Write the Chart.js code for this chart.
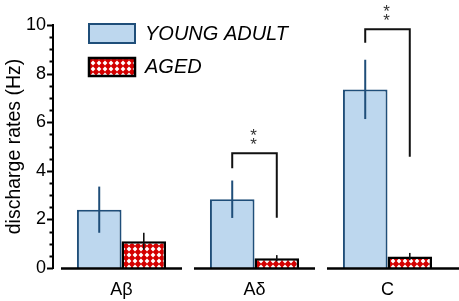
<!DOCTYPE html>
<html>
<head>
<meta charset="utf-8">
<script src="https://cdn.jsdelivr.net/npm/chart.js@4.4.1/dist/chart.umd.min.js"></script>
<style>
  html, body { margin: 0; padding: 0; background: #fff; }
  #wrap { width: 459px; height: 301px; position: relative; }
</style>
</head>
<body>
<div id="wrap"><canvas id="rateChart"></canvas></div>
<script>
// data
const fiberTypes = ["Aβ", "Aδ", "C"];
const youngMeans = [2.4, 2.83, 7.35];
const youngErr = [0.95, 0.77, 1.22];
const agedMeans = [1.1, 0.4, 0.47];
const agedErr = [0.35, 0.13, 0.15];
const yTicks = [0, 2, 4, 6, 8, 10];
// significance brackets (value units), null = none
const bracketTop = [null, 4.72, 9.82];
const bracketLeftEnd = [null, 4.1, 9.27];
const bracketRightEnd = [null, 2.07, 4.58];

const FONT = "'Liberation Sans', Arial, sans-serif";
const YOUNG_FILL = "#bdd7ee";
const YOUNG_EDGE = "#1f4e79";

function makeHatch() {
  const c = document.createElement("canvas");
  c.width = 6; c.height = 6;
  const g = c.getContext("2d");
  g.fillStyle = "#d40000";
  g.fillRect(0, 0, 6, 6);
  g.fillStyle = "#ffffff";
  g.beginPath();
  g.moveTo(3, 0.6); g.lineTo(5.4, 3); g.lineTo(3, 5.4); g.lineTo(0.6, 3);
  g.closePath();
  g.fill();
  return g.createPattern(c, "repeat");
}
const hatch = makeHatch();

const decorPlugin = {
  id: "decor",
  afterDatasetsDraw(chart) {
    const ctx = chart.ctx;
    const y = chart.scales.y;
    const x = chart.scales.x;
    const area = chart.chartArea;
    const m0 = chart.getDatasetMeta(0);
    const m1 = chart.getDatasetMeta(1);
    ctx.save();

    // error bars
    fiberTypes.forEach((_, i) => {
      ctx.lineWidth = 2;
      ctx.strokeStyle = YOUNG_EDGE;
      ctx.beginPath();
      ctx.moveTo(m0.data[i].x, y.getPixelForValue(youngMeans[i] - youngErr[i]));
      ctx.lineTo(m0.data[i].x, y.getPixelForValue(youngMeans[i] + youngErr[i]));
      ctx.stroke();
      ctx.lineWidth = 1.6;
      ctx.strokeStyle = "#111";
      ctx.beginPath();
      ctx.moveTo(m1.data[i].x, y.getPixelForValue(agedMeans[i] - agedErr[i]));
      ctx.lineTo(m1.data[i].x, y.getPixelForValue(agedMeans[i] + agedErr[i]));
      ctx.stroke();
    });

    // brackets + stars
    fiberTypes.forEach((_, i) => {
      if (bracketTop[i] == null) return;
      const xl = m0.data[i].x, xr = m1.data[i].x;
      const yt = y.getPixelForValue(bracketTop[i]);
      ctx.lineWidth = 2;
      ctx.strokeStyle = "#111";
      ctx.beginPath();
      ctx.moveTo(xl, y.getPixelForValue(bracketLeftEnd[i]));
      ctx.lineTo(xl, yt);
      ctx.lineTo(xr, yt);
      ctx.lineTo(xr, y.getPixelForValue(bracketRightEnd[i]));
      ctx.stroke();
      ctx.fillStyle = "#333";
      ctx.font = "17px " + FONT;
      ctx.textAlign = "center";
      ctx.textBaseline = "alphabetic";
      const cx = (xl + xr) / 2 - 1;
      ctx.fillText("*", cx, yt - 22 + 10);
      ctx.fillText("*", cx, yt - 13 + 10);
    });

    // y axis line and ticks
    const ax = area.left - 2;
    ctx.strokeStyle = "#000";
    ctx.lineWidth = 2;
    ctx.beginPath();
    ctx.moveTo(ax, y.getPixelForValue(10) - 1);
    ctx.lineTo(ax, y.getPixelForValue(0) + 1);
    ctx.stroke();
    for (let v = 0; v <= 10; v += 0.5) {
      const py = Math.round(y.getPixelForValue(v)) + 0.5;
      const len = v % 2 === 0 ? 6 : 3.5;
      ctx.beginPath();
      ctx.moveTo(ax - len, py);
      ctx.lineTo(ax, py);
      ctx.stroke();
    }

    // broken baseline under each group
    const base = y.getPixelForValue(0) + 0.5;
    ctx.lineWidth = 2.5;
    fiberTypes.forEach((_, i) => {
      const c = x.getPixelForValue(i);
      const half = 0.455 * (x.getPixelForValue(1) - x.getPixelForValue(0));
      const right = i === fiberTypes.length - 1 ? chart.width : c + half;
      ctx.beginPath();
      ctx.moveTo(c - half, base);
      ctx.lineTo(right, base);
      ctx.stroke();
    });

    // legend
    ctx.lineWidth = 2;
    ctx.fillStyle = YOUNG_FILL;
    ctx.fillRect(89, 24, 46, 19);
    ctx.strokeStyle = YOUNG_EDGE;
    ctx.strokeRect(89, 24, 46, 19);
    ctx.fillStyle = hatch;
    ctx.fillRect(89, 58, 46, 18);
    ctx.lineWidth = 2.5;
    ctx.strokeStyle = "#000";
    ctx.strokeRect(89, 58, 46, 18);
    ctx.fillStyle = "#000";
    ctx.font = "italic 20px " + FONT;
    ctx.textAlign = "left";
    ctx.textBaseline = "middle";
    ctx.fillText("YOUNG ADULT", 145, 34);
    ctx.fillText("AGED", 145, 67);
    ctx.restore();
  }
};

new Chart(document.getElementById("rateChart"), {
  type: "bar",
  data: {
    labels: fiberTypes,
    datasets: [
      {
        label: "YOUNG ADULT",
        data: youngMeans,
        backgroundColor: YOUNG_FILL,
        borderColor: YOUNG_EDGE,
        borderWidth: 2,
        borderSkipped: "bottom"
      },
      {
        label: "AGED",
        data: agedMeans,
        backgroundColor: hatch,
        borderColor: "#000",
        borderWidth: 2.5,
        borderSkipped: "bottom"
      }
    ]
  },
  options: {
    responsive: true,
    maintainAspectRatio: false,
    animation: false,
    devicePixelRatio: 1,
    layout: { padding: { left: 0, right: 5, top: 25, bottom: 0 } },
    datasets: { bar: { barPercentage: 1, categoryPercentage: 0.67 } },
    plugins: { legend: { display: false }, tooltip: { enabled: false } },
    scales: {
      x: {
        grid: { display: false, drawTicks: false },
        border: { display: false },
        ticks: { color: "#000", font: { family: FONT, size: 18 }, padding: 11 },
        afterFit: s => { s.height = 33; }
      },
      y: {
        min: 0,
        max: 10,
        afterBuildTicks: s => { s.ticks = yTicks.map(v => ({ value: v })); },
        grid: { display: false, drawTicks: false },
        border: { display: false },
        ticks: { color: "#000", font: { family: FONT, size: 18 }, padding: 9 },
        title: {
          display: true,
          text: "discharge rates (Hz)",
          color: "#000",
          font: { family: FONT, size: 19.5 },
          padding: { top: 3, bottom: 4 }
        },
        afterFit: s => { s.width = 55; }
      }
    }
  },
  plugins: [decorPlugin]
});
</script>
</body>
</html>
